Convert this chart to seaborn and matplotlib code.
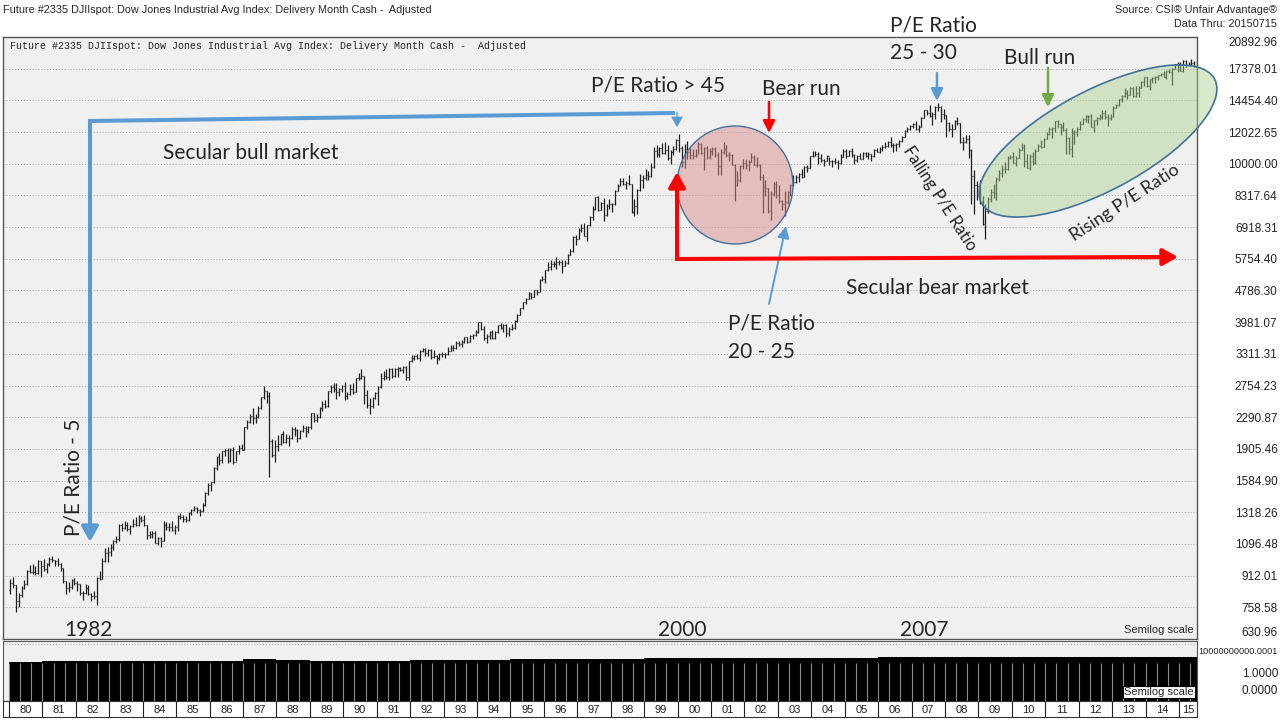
import numpy as np
import pandas as pd
import matplotlib
matplotlib.use("Agg")
import matplotlib.pyplot as plt
import matplotlib.transforms as mtransforms
from matplotlib.patches import Ellipse, FancyArrowPatch
from matplotlib.lines import Line2D
from matplotlib.colors import to_rgba
import seaborn as sns

# monthly DJIA bars, Jan 1980 .. Jul 2015
first_open = 839
close = [
    876, 863, 786, 817, 851, 868, 935, 933, 932, 925, 993, 964,  # 1980
    947, 975, 1004, 998, 992, 977, 953, 882, 850, 853, 889, 875,  # 1981
    871, 824, 823, 848, 820, 812, 809, 901, 896, 992, 1039, 1047,  # 1982
    1076, 1113, 1130, 1226, 1200, 1222, 1199, 1216, 1233, 1225, 1276, 1259,  # 1983
    1221, 1155, 1165, 1171, 1105, 1132, 1115, 1224, 1207, 1207, 1189, 1212,  # 1984
    1287, 1284, 1267, 1258, 1315, 1336, 1348, 1334, 1329, 1374, 1472, 1547,  # 1985
    1571, 1710, 1819, 1784, 1877, 1893, 1775, 1898, 1768, 1878, 1914, 1896,  # 1986
    2158, 2224, 2305, 2286, 2292, 2419, 2572, 2663, 2596, 1994, 1834, 1939,  # 1987
    1958, 2072, 1988, 2032, 2031, 2142, 2129, 2032, 2113, 2149, 2115, 2169,  # 1988
    2342, 2258, 2294, 2419, 2480, 2440, 2661, 2737, 2693, 2645, 2706, 2753,  # 1989
    2591, 2627, 2707, 2657, 2877, 2881, 2905, 2614, 2453, 2442, 2560, 2634,  # 1990
    2736, 2882, 2914, 2888, 3028, 2907, 3025, 3044, 3017, 3069, 2895, 3169,  # 1991
    3224, 3268, 3236, 3359, 3397, 3319, 3394, 3257, 3272, 3226, 3306, 3301,  # 1992
    3310, 3371, 3435, 3428, 3527, 3516, 3540, 3651, 3555, 3681, 3684, 3754,  # 1993
    3978, 3832, 3636, 3682, 3758, 3625, 3765, 3913, 3843, 3908, 3739, 3834,  # 1994
    3844, 4011, 4158, 4321, 4465, 4556, 4709, 4611, 4789, 4756, 5075, 5117,  # 1995
    5395, 5486, 5588, 5569, 5643, 5655, 5529, 5616, 5882, 6029, 6522, 6448,  # 1996
    6813, 6878, 6584, 7009, 7331, 7673, 8223, 7622, 7945, 7442, 7823, 7908,  # 1997
    7907, 8546, 8800, 9063, 8900, 8952, 8883, 7539, 7843, 8592, 9117, 9181,  # 1998
    9359, 9307, 9786, 10789, 10560, 10971, 10655, 10829, 10337, 10729, 10878, 11497,  # 1999
    10941, 10128, 10922, 10734, 10522, 10448, 10522, 11215, 10651, 10971, 10415, 10788,  # 2000
    10887, 10495, 9879, 10735, 10912, 10502, 10523, 9950, 8848, 9075, 9852, 10022,  # 2001
    9920, 10106, 10404, 9946, 9925, 9243, 8737, 8664, 7592, 8397, 8896, 8342,  # 2002
    8054, 7891, 7992, 8480, 8850, 8985, 9234, 9416, 9275, 9801, 9782, 10454,  # 2003
    10488, 10584, 10358, 10226, 10188, 10435, 10140, 10174, 10080, 10027, 10428, 10783,  # 2004
    10490, 10766, 10504, 10193, 10467, 10275, 10641, 10482, 10569, 10440, 10806, 10718,  # 2005
    10865, 10993, 11109, 11367, 11168, 11150, 11186, 11381, 11679, 12081, 12222, 12463,  # 2006
    12622, 12269, 12354, 13063, 13628, 13409, 13212, 13358, 13896, 13930, 13372, 13265,  # 2007
    12650, 12266, 12263, 12820, 12638, 11350, 11378, 11544, 10851, 9325, 8829, 8776,  # 2008
    8001, 7063, 7609, 8168, 8500, 8447, 9172, 9496, 9712, 9713, 10345, 10428,  # 2009
    10067, 10325, 10857, 11009, 10137, 9774, 10466, 10015, 10788, 11118, 11006, 11578,  # 2010
    11892, 12226, 12320, 12811, 12570, 12414, 12143, 11614, 10913, 11955, 12046, 12218,  # 2011
    12633, 12952, 13212, 13214, 12393, 12880, 13009, 13091, 13437, 13096, 13026, 13104,  # 2012
    13861, 14054, 14579, 14840, 15116, 14910, 15500, 14810, 15130, 15546, 16086, 16577,  # 2013
    15699, 16322, 16458, 16581, 16717, 16827, 16563, 17098, 17043, 17391, 17828, 17823,  # 2014
    17165, 18133, 17776, 17841, 18011, 17620, 18050,  # 2015
]
high = [
    895, 905, 866, 825, 860, 890, 940, 968, 975, 965, 1000, 995,
    1005, 980, 1015, 1025, 1000, 1012, 980, 955, 885, 880, 895, 900,
    885, 870, 835, 870, 865, 825, 835, 905, 935, 1010, 1070, 1075,
    1095, 1125, 1150, 1230, 1240, 1250, 1245, 1225, 1265, 1285, 1295, 1290,
    1295, 1225, 1185, 1180, 1185, 1145, 1140, 1250, 1245, 1235, 1255, 1225,
    1295, 1310, 1300, 1290, 1320, 1340, 1370, 1360, 1345, 1390, 1480, 1560,
    1575, 1715, 1830, 1860, 1885, 1900, 1910, 1910, 1925, 1885, 1950, 1960,
    2170, 2250, 2340, 2420, 2330, 2450, 2580, 2750, 2670, 2650, 2020, 2010,
    2060, 2080, 2110, 2080, 2060, 2160, 2160, 2140, 2125, 2190, 2175, 2180,
    2345, 2350, 2340, 2425, 2510, 2535, 2665, 2760, 2795, 2800, 2710, 2770,
    2815, 2660, 2780, 2790, 2885, 2955, 3025, 2915, 2690, 2560, 2580, 2650,
    2745, 2960, 2990, 3040, 3045, 3050, 3045, 3070, 3060, 3090, 3080, 3180,
    3290, 3290, 3300, 3380, 3425, 3420, 3400, 3400, 3390, 3290, 3320, 3345,
    3330, 3450, 3490, 3480, 3560, 3560, 3580, 3660, 3660, 3700, 3720, 3800,
    3990, 3980, 3900, 3720, 3780, 3800, 3780, 3920, 3960, 3940, 3930, 3880,
    3950, 4020, 4180, 4330, 4470, 4590, 4740, 4720, 4800, 4810, 5110, 5220,
    5400, 5650, 5700, 5690, 5800, 5720, 5730, 5730, 5920, 6100, 6560, 6600,
    6890, 7060, 7090, 7020, 7400, 7800, 8260, 8300, 8020, 8180, 7900, 8150,
    7980, 8560, 8900, 9210, 9200, 9070, 9370, 8900, 8160, 8650, 9400, 9380,
    9700, 9580, 10030, 11000, 11150, 11000, 11250, 11330, 11160, 10800, 11100, 11570,
    11900, 11080, 11200, 11400, 10950, 10900, 10900, 11350, 11300, 11000, 11100, 10950,
    11000, 11000, 10700, 10900, 11350, 11150, 10700, 10600, 10000, 9600, 9900, 10250,
    10300, 10200, 10670, 10500, 10400, 10000, 9400, 9100, 8700, 8550, 9000, 9050,
    8850, 8100, 8550, 8550, 8900, 9350, 9350, 9450, 9700, 9850, 9900, 10480,
    10750, 10750, 10700, 10600, 10300, 10550, 10400, 10200, 10350, 10200, 10600, 10880,
    10880, 10850, 10960, 10600, 10550, 10650, 10720, 10720, 10700, 10600, 10900, 10950,
    11050, 11150, 11350, 11400, 11700, 11250, 11250, 11450, 11750, 12200, 12350, 12550,
    12650, 12800, 12500, 13150, 13700, 13700, 14050, 13500, 14000, 14200, 13950, 13750,
    13300, 12750, 12600, 12900, 13100, 12650, 11650, 11800, 11800, 10900, 9650, 9050,
    9100, 8300, 7900, 8250, 8650, 8900, 9250, 9650, 9900, 10100, 10450, 10550,
    10730, 10450, 10950, 11250, 11200, 10600, 10600, 10700, 10900, 11200, 11450, 11600,
    12050, 12400, 12400, 12850, 12900, 12600, 12750, 12300, 11700, 12300, 12200, 12350,
    12850, 13050, 13300, 13300, 13350, 12900, 13100, 13350, 13650, 13650, 13350, 13350,
    13970, 14150, 14600, 14900, 15550, 15350, 15650, 15600, 15700, 15700, 16200, 16600,
    16600, 16400, 16600, 16650, 16750, 16950, 17150, 17150, 17350, 17400, 17900, 18100,
    18100, 18250, 18300, 18100, 18350, 18150, 18120,
]
low = [
    820, 850, 740, 759, 805, 845, 865, 925, 920, 915, 920, 905,
    935, 925, 965, 985, 965, 965, 935, 875, 820, 830, 845, 865,
    835, 815, 790, 820, 815, 785, 795, 770, 890, 895, 990, 990,
    1020, 1060, 1100, 1115, 1185, 1195, 1180, 1160, 1210, 1220, 1215, 1245,
    1215, 1130, 1135, 1135, 1100, 1090, 1080, 1115, 1190, 1180, 1180, 1165,
    1180, 1270, 1245, 1245, 1250, 1295, 1325, 1310, 1290, 1320, 1370, 1460,
    1495, 1560, 1690, 1740, 1760, 1830, 1760, 1765, 1750, 1780, 1855, 1890,
    1890, 2140, 2220, 2200, 2215, 2280, 2400, 2540, 2490, 1620, 1820, 1765,
    1880, 1945, 1975, 1970, 1940, 2020, 2050, 1980, 2015, 2100, 2040, 2090,
    2140, 2230, 2225, 2280, 2380, 2420, 2430, 2640, 2650, 2540, 2590, 2660,
    2530, 2540, 2610, 2620, 2650, 2840, 2855, 2470, 2410, 2340, 2420, 2540,
    2460, 2710, 2840, 2860, 2850, 2880, 2900, 2900, 2990, 2960, 2840, 2840,
    3150, 3190, 3210, 3180, 3340, 3270, 3270, 3220, 3240, 3120, 3200, 3250,
    3240, 3290, 3370, 3360, 3410, 3470, 3440, 3530, 3530, 3550, 3600, 3670,
    3740, 3800, 3590, 3520, 3620, 3600, 3620, 3730, 3820, 3770, 3650, 3670,
    3810, 3830, 3990, 4140, 4290, 4430, 4550, 4560, 4600, 4660, 4740, 5050,
    5000, 5370, 5400, 5480, 5410, 5560, 5300, 5520, 5580, 5880, 5990, 6250,
    6440, 6730, 6560, 6390, 6960, 7230, 7660, 7600, 7620, 7160, 7400, 7680,
    7550, 7880, 8530, 8790, 8850, 8620, 8850, 7500, 7400, 7470, 8550, 8700,
    9100, 9100, 9270, 9780, 10400, 10400, 10600, 10600, 10200, 9980, 10550, 10850,
    10700, 9800, 9730, 10300, 10300, 10300, 10400, 10600, 10600, 9650, 10300, 10300,
    10500, 10400, 9350, 9350, 10600, 10400, 10150, 9900, 8060, 8800, 9000, 9700,
    9700, 9600, 10100, 9900, 9800, 9100, 7500, 8300, 7500, 7200, 8300, 8200,
    7950, 7650, 7400, 7900, 8300, 8800, 8950, 9000, 9200, 9250, 9550, 9750,
    10400, 10450, 10000, 10100, 9850, 10150, 9950, 9800, 10000, 9700, 10000, 10400,
    10350, 10450, 10400, 10000, 10100, 10250, 10250, 10400, 10300, 10150, 10400, 10700,
    10650, 10750, 10950, 11000, 11050, 10700, 10750, 11050, 11350, 11650, 12000, 12200,
    12300, 12200, 12000, 12350, 13050, 13250, 13150, 12500, 13000, 13550, 12750, 13000,
    11650, 12100, 11700, 12250, 12500, 11300, 10800, 11300, 10350, 7900, 7450, 8100,
    7900, 7000, 6470, 7500, 8000, 8200, 8100, 9050, 9250, 9500, 9650, 10250,
    10050, 9850, 10350, 10850, 9800, 9750, 9650, 9950, 10000, 10750, 10950, 11000,
    11550, 11850, 11600, 12050, 12300, 11850, 12100, 10600, 10600, 10400, 11200, 11750,
    12200, 12600, 12750, 12700, 12350, 12050, 12500, 12900, 12950, 12950, 12450, 12900,
    13100, 13800, 14000, 14300, 14700, 14550, 14900, 14750, 14700, 14700, 15500, 15750,
    15600, 15350, 16000, 16000, 16300, 16650, 16550, 16350, 16900, 15850, 17350, 17050,
    17100, 17050, 17600, 17650, 17800, 17550, 17400,
]
# bottom panel bar height, one value per year 1980..2015
vol_by_year = [0.98, 0.99, 0.99, 1.00, 1.00, 1.00, 1.01, 1.04, 1.03, 1.01,
               1.01, 1.01, 1.02, 1.03, 1.03, 1.04, 1.05, 1.06, 1.06, 1.07,
               1.07, 1.07, 1.08, 1.08, 1.08, 1.08, 1.09, 1.09, 1.10, 1.10,
               1.10, 1.10, 1.10, 1.10, 1.10, 1.10]
ytick_labels = ["630.96", "758.58", "912.01", "1096.48", "1318.26", "1584.90",
                "1905.46", "2290.87", "2754.23", "3311.31", "3981.07", "4786.30",
                "5754.40", "6918.31", "8317.64", "10000.00", "12022.65", "14454.40",
                "17378.01", "20892.96"]
year_labels = ["80", "81", "82", "83", "84", "85", "86", "87", "88", "89",
               "90", "91", "92", "93", "94", "95", "96", "97", "98", "99",
               "00", "01", "02", "03", "04", "05", "06", "07", "08", "09",
               "10", "11", "12", "13", "14", "15"]
vol_labels = ["10000000000.0001", "1.0000", "0.0000"]

title = "Future #2335 DJIIspot: Dow Jones Industrial Avg Index: Delivery Month Cash -  Adjusted"

sns.set_style("white")
plt.rcParams["font.family"] = ["Lato", "DejaVu Sans"]
NARROW = ["Liberation Sans Narrow", "Liberation Sans", "DejaVu Sans"]

W, H = 1280, 720
fig = plt.figure(figsize=(12.8, 7.2), dpi=100, facecolor="white")
# slide pixel coordinates (origin top-left) for the overlay drawings
px = mtransforms.Affine2D().scale(1 / W, -1 / H).translate(0, 1) + fig.transFigure

def box(l, t, r, b):
    return [l / W, 1 - b / H, (r - l) / W, (b - t) / H]

ax = fig.add_axes(box(3, 37, 1197, 639))
axv = fig.add_axes(box(3, 641, 1197, 701))
axl = fig.add_axes(box(3, 701, 1197, 717))
x0, x1 = 1979.82, 2015.54

dates = pd.date_range("1980-01-01", periods=len(close), freq="MS")
df = pd.DataFrame({
    "x": np.asarray(dates.year + (dates.month - 0.5) / 12, dtype=float),
    "open": [first_open] + close[:-1],
    "high": high, "low": low, "close": close,
    "vol": [vol_by_year[d.year - 1980] for d in dates],
})
yticks = [float(s) for s in ytick_labels]

# ---- price panel
ax.set_facecolor("#f0f0f0")
ax.set_yscale("log")
ax.set_xlim(x0, x1)
ax.set_ylim(yticks[0], yticks[-1])
for t in yticks:
    ax.axhline(t, color="#a0a0a0", lw=0.7, ls=(0, (1, 2)), zorder=0)
tk = 0.33 / 12
ax.vlines(df["x"], df["low"], df["high"], color="#1e1e1e", lw=0.9)
ax.hlines(df["open"], df["x"] - tk, df["x"], color="#1e1e1e", lw=0.9)
ax.hlines(df["close"], df["x"], df["x"] + tk, color="#1e1e1e", lw=0.9)
ax.set_xticks([])
ax.set_yticks(yticks)
ax.set_yticklabels(ytick_labels)
ax.minorticks_off()
ax.yaxis.tick_right()
ax.tick_params(axis="y", length=0, pad=58, labelsize=8.5, labelcolor="#222222")
labs = ax.get_yticklabels()
for lab in labs:
    lab.set_ha("right")
    lab.set_fontfamily(NARROW)
labs[0].set_va("bottom")
labs[-1].set_va("top")
for s in ax.spines.values():
    s.set_color("#555555")
    s.set_linewidth(1)

# ---- bottom panel
edges = [1980 + i / 12 for i in range(len(close) + 1)]
sns.histplot(data=df, x="x", weights="vol", bins=edges, ax=axv, color="black",
             alpha=1, linewidth=0, element="bars")
axv.set_facecolor("#f0f0f0")
axv.set_xlim(x0, x1)
axv.set_ylim(0, 1.5)
axv.vlines(np.arange(1980, 2015.55, 1 / 3), 0, 0.96, color="#8c8c8c", lw=0.8,
           zorder=4)
axv.axhline(1.42, color="#a0a0a0", lw=0.7, ls=(0, (1, 2)))
axv.set_xticks([])
axv.set_yticks([])
axv.set_xlabel("")
axv.set_ylabel("")
for s in axv.spines.values():
    s.set_color("#555555")

# ---- year strip
axl.set_xlim(x0, x1)
axl.set_ylim(0, 1)
axl.set_xticks([])
axl.set_yticks([])
for i, lab in enumerate(year_labels):
    y = 1980 + i
    axl.axvline(y, color="#222222", lw=0.8)
    xc = min(y + 0.5, (y + x1) / 2)
    axl.text(xc, 0.45, lab, ha="center", va="center", fontsize=8,
             family=NARROW, color="#222222")
for s in axl.spines.values():
    s.set_color("#333333")

# ---- header texts
fig.text(3, 10, title, transform=px, va="center", fontsize=7.8, family=NARROW)
fig.text(1277, 10, "Source: CSI\u00ae Unfair Advantage\u00ae", transform=px,
         ha="right", va="center", fontsize=7.8, family=NARROW)
fig.text(1277, 24, "Data Thru: 20150715", transform=px, ha="right", va="center",
         fontsize=7.8, family=NARROW)
fig.text(10, 46, title, transform=px, va="center", fontsize=7.2,
         family=["Liberation Mono", "DejaVu Sans Mono"], color="#222222")
fig.text(1194, 630, "Semilog scale", transform=px, ha="right", va="center",
         fontsize=8, family=NARROW)
fig.text(1194, 692, "Semilog scale", transform=px, ha="right", va="center",
         fontsize=8, family=NARROW,
         bbox=dict(boxstyle="square,pad=0.1", fc="white", ec="black", lw=0.8))
for lab, yy, fs in zip(vol_labels, [652, 674, 691], [6.6, 8.5, 8.5]):
    fig.text(1278, yy, lab, transform=px, ha="right", va="center",
             fontsize=fs, family=NARROW, color="#222222")

# ---- overlay shapes
BLUE, RED, GREEN, EDGE = "#5b9bd5", "#ff0000", "#70ad47", "#41719c"

fig.add_artist(Ellipse((735, 185), 116, 118, transform=px,
                       fc=to_rgba("#d98c8c", 0.5), ec=EDGE, lw=1))
fig.add_artist(Ellipse((1098, 141), 264, 100, angle=-28, transform=px,
                       fc=to_rgba("#a9d18e", 0.45), ec=EDGE, lw=1.2))

def arrow(p0, p1, color, lw, ms, hl=0.45, hw=0.25):
    fig.add_artist(FancyArrowPatch(p0, p1, transform=px, color=color, lw=lw,
                                   arrowstyle=f"-|>,head_length={hl},head_width={hw}",
                                   mutation_scale=ms, shrinkA=0, shrinkB=0))

def poly(pts, color, lw):
    xs, ys = zip(*pts)
    fig.add_artist(Line2D(xs, ys, transform=px, color=color, lw=lw,
                          solid_joinstyle="miter", solid_capstyle="butt"))

# secular bull bracket
poly([(675, 113), (90, 121), (90, 520)], BLUE, 2.9)
arrow((90, 500), (90, 542), BLUE, 2.9, 20)
arrow((677, 112), (677, 127), BLUE, 1.0, 10, 0.6, 0.35)
# secular bear bracket
poly([(677, 190), (677, 259), (1160, 257)], RED, 2.9)
arrow((677, 210), (677, 172), RED, 2.9, 20)
arrow((1140, 257.2), (1178, 257), RED, 2.9, 20)
# small arrows
arrow((769, 102), (769, 133), RED, 1.8, 12, 0.6, 0.3)
arrow((937, 73), (937, 101), BLUE, 1.8, 12, 0.6, 0.3)
arrow((1048, 68), (1048, 107), GREEN, 1.8, 12, 0.6, 0.3)
arrow((769, 304), (786, 226), BLUE, 1.4, 12, 0.6, 0.3)

# ---- annotation texts
FS = 15
def note(x, y, s, ha="center", rot=0, fs=FS):
    fig.text(x, y, s, transform=px, ha=ha, va="center", fontsize=fs,
             rotation=rot, rotation_mode="anchor" if rot else "default")

note(251, 153, "Secular bull market")
note(658, 86, "P/E Ratio > 45")
note(801, 89, "Bear run")
note(890, 25, "P/E Ratio", ha="left")
note(890, 53, "25 - 30", ha="left")
note(1040, 58, "Bull run")
note(937, 288, "Secular bear market")
note(728, 324, "P/E Ratio", ha="left")
note(728, 352, "20 - 25", ha="left")
note(88, 630, "1982")
note(682, 630, "2000")
note(924, 630, "2007")
note(73, 477, "P/E Ratio - 5", rot=90)
note(940, 198, "Falling P/E Ratio", rot=-57, fs=12)
note(1125, 203, "Rising P/E Ratio", rot=33, fs=13)

fig.savefig("out.png", dpi=100, facecolor="white")
